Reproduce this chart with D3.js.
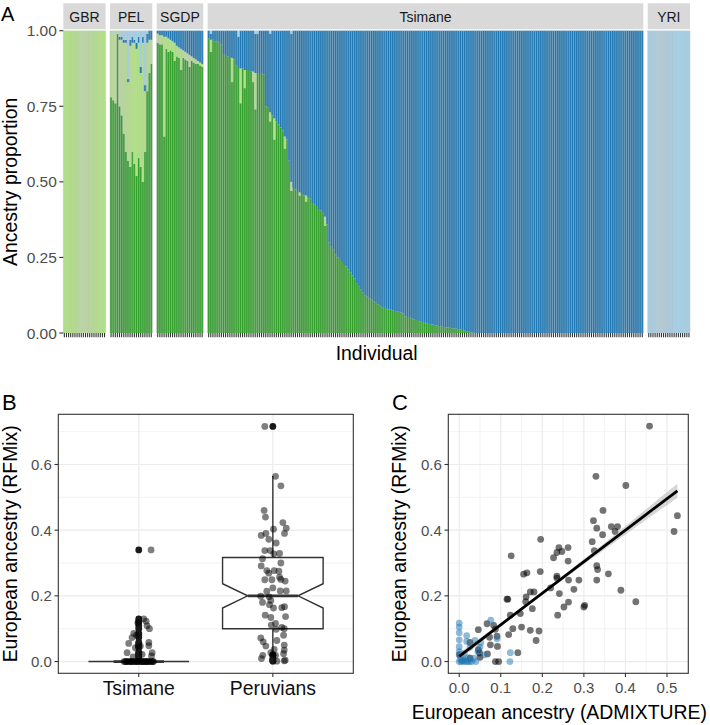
<!DOCTYPE html>
<html><head><meta charset="utf-8">
<script src="https://cdn.jsdelivr.net/npm/d3@7"></script>
<style>
body{margin:0;background:#fff}
svg{display:block}
text{font-family:"Liberation Sans",Arial,Helvetica,sans-serif}
</style>
</head><body>
<svg id="chart" width="710" height="725"></svg>
<script>
// ================= DATA =================
// Panel A: ancestry components (stack order bottom -> top)
const components = ["Native", "European", "Tsimane", "African"];
const componentColors = ["#33A02C", "#B2DF8A", "#1F78B4", "#A6CEE3"];
const populations = ["GBR", "PEL", "SGDP", "Tsimane", "YRI"];

const gbrEuropean = [1,1,1,1,1,1,1,1,1,1,1,1,1,1,1,1,1,1,1,1];
const yriAfrican  = [1,1,1,1,1,1,1,1,1,1,1,1,1,1,1,1,1,1,1,1];

const pelNative   = [0.78,0.77,0.76,0.99,0.75,0.72,0.66,0.60,0.57,0.55,0.60,0.56,0.52,0.58,0.55,0.50,0.60,0.80,0.86,0.89];
const pelEuropean = [0.21,0.22,0.24,0.01,0.22,0.25,0.30,0.36,0.26,0.40,0.36,0.40,0.42,0.38,0.31,0.46,0.20,0.16,0.11,0.08];
const pelTsimane  = [0,0,0,0,0.01,0.01,0.01,0.01,0.01,0.02,0.02,0.01,0.02,0.02,0.02,0.02,0.02,0.03,0.03,0.03];
const pelAfrican  = [0.01,0.01,0,0,0.02,0.02,0.03,0.03,0.16,0.03,0.02,0.03,0.04,0.02,0.12,0.02,0.18,0.01,0,0];

const sgdpNative   = [0.96,0.955,0.955,0.65,0.94,0.93,0.935,0.93,0.90,0.915,0.91,0.87,0.91,0.905,0.90,0.88,0.90,0.895,0.89,0.89,0.885,0.88];
const sgdpEuropean = [0.03,0.03,0.03,0.33,0.04,0.045,0.035,0.035,0.06,0.035,0.035,0.07,0.025,0.025,0.025,0.04,0.015,0.015,0.015,0.01,0.01,0.01];
const sgdpTsimane  = [0.01,0.015,0.015,0.02,0.02,0.025,0.03,0.035,0.04,0.05,0.055,0.06,0.065,0.07,0.075,0.08,0.085,0.09,0.095,0.10,0.105,0.11];

const tsimaneNative = [
 0.975,0.93,0.97,0.965,0.965,0.96,0.955,0.92,0.92,0.915,
 0.91,0.83,0.905,0.885,0.88,0.76,0.875,0.81,0.87,0.87,
 0.865,0.83,0.74,0.86,0.86,0.86,0.855,0.75,0.745,0.70,
 0.72,0.64,0.70,0.69,0.68,0.67,0.61,0.64,0.57,0.47,
 0.48,0.475,0.47,0.455,0.46,0.455,0.435,0.45,0.445,0.43,
 0.425,0.42,0.41,0.405,0.40,0.355,0.36,0.30,0.285,0.275,
 0.26,0.25,0.245,0.235,0.225,0.22,0.21,0.20,0.19,0.18,
 0.165,0.155,0.145,0.135,0.125,0.12,0.115,0.11,0.105,0.10,
 0.095,0.09,0.085,0.083,0.08,0.078,0.077,0.075,0.073,0.072,
 0.07,0.068,0.065,0.055,0.053,0.05,0.048,0.045,0.043,0.04,
 0.038,0.036,0.034,0.032,0.03,0.029,0.028,0.026,0.025,0.023,
 0.022,0.02,0.019,0.018,0.017,0.016,0.015,0.014,0.013,0.012,
 0.01,0.008,0.006,0.004,0.002,0.001,0,0,0,0,
 0,0,0,0,0,0,0,0,0,0,
 0,0,0,0,0,0,0,0,0,0,
 0,0,0,0,0,0,0,0,0,0,
 0,0,0,0,0,0,0,0,0,0,
 0,0,0,0,0,0,0,0,0,0,
 0,0,0,0,0,0,0,0,0,0,
 0,0,0,0,0,0,0,0,0,0,
 0,0,0,0,0,0
];
// [bar index, proportion]
const tsimaneEuropeanBits = [[1,0.04],[11,0.08],[15,0.115],[17,0.06],[21,0.035],[22,0.12],[29,0.03],[31,0.07],[36,0.04],[39,0.03],[43,0.01],[46,0.02],[55,0.03]];
const tsimaneAfricanBits  = [[1,0.01],[14,0.02],[22,0.01],[23,0.01],[29,0.01],[39,0.01]];

const yTicksA = [0, 0.25, 0.5, 0.75, 1];
const yTickLabelsA = ["0.00", "0.25", "0.50", "0.75", "1.00"];

// Panel B: European ancestry (RFMix) by group, with jitter offsets (in category units)
const groupsB = ["Tsimane", "Peruvians"];
const peruRFMix = [0.716,0.564,0.535,0.460,0.440,0.423,0.403,0.406,0.390,0.390,0.384,0.361,0.372,0.338,0.338,0.329,0.328,0.313,0.300,0.291,0.277,0.277,0.275,0.269,0.249,0.249,0.257,0.250,0.245,0.224,0.214,0.215,0.215,0.199,0.197,0.186,0.180,0.173,0.167,0.164,0.163,0.141,0.134,0.137,0.116,0.111,0.104,0.100,0.098,0.080,0.072,0.064,0.060,0.050,0.047,0.037,0.035,0.027,0.024,0.019,0.019,0.009,0.001,0.002,0.004,0.022];
const peruJitter = [-0.06,0.02,0.06,-0.065,-0.055,0.075,0.005,0.10,0.087,-0.052,-0.087,0.025,-0.03,-0.06,-0.02,0.05,0.007,-0.077,0.06,-0.087,-0.045,0.01,0.045,-0.03,-0.06,-0.007,0.05,0.06,0.092,0.0,-0.045,0.055,0.10,-0.09,-0.027,-0.015,-0.077,-0.025,0.087,0.067,0.005,-0.057,-0.015,0.095,0.02,-0.012,0.067,0.085,0.025,0.08,-0.09,0.03,-0.072,0.085,-0.052,0.01,0.085,-0.015,0.08,-0.075,0.02,-0.085,0.03,0.085,0.092,0.0];
const tsimaneRFMix = [0.340,0.130,0.123,0.118,0.109,0.100,0.086,0.080,0.073,0.058,0.055,0.047,0.048,0.042,0.027,0.027,0.017,0.022,0.014,
 0,0,0,0,0,0,0,0,0,0,0,0,0,0,0,0,0,0,0,0,0,0,0,0,0,0,0,0,0,0];
const tsimaneJitter = [0.092,0.037,0.055,-0.007,0.062,0.08,-0.037,-0.017,-0.05,0.075,-0.075,0.012,0.075,-0.025,-0.087,0.1,0.095,0.025,-0.042,
 -0.11,-0.1,-0.09,-0.08,-0.07,-0.06,-0.05,-0.04,-0.03,-0.02,-0.01,0,0.01,0.02,0.03,0.04,0.05,0.06,0.07,0.08,0.09,0.1,0.11,-0.095,-0.055,-0.015,0.025,0.065,0.105,0.045];
// box statistics
const boxGroup   = ["Tsimane", "Peruvians"];
const boxLower   = [0, 0.02];
const boxQ1      = [0, 0.10];
const boxMedian  = [0, 0.20];
const boxQ3      = [0, 0.317];
const boxUpper   = [0, 0.565];
const boxNotchLo = [0, 0.163];
const boxNotchHi = [0, 0.237];
const yTicksBC = [0, 0.2, 0.4, 0.6];

// Panel C: ADMIXTURE vs RFMix
const peruAdmix = [0.458,0.329,0.401,0.346,0.525,0.323,0.366,0.381,0.331,0.375,0.517,0.345,0.320,0.196,0.325,0.240,0.262,0.227,0.235,0.247,0.262,0.125,0.331,0.333,0.359,0.195,0.155,0.163,0.235,0.235,0.288,0.263,0.331,0.389,0.276,0.220,0.241,0.171,0.180,0.161,0.160,0.425,0.263,0.115,0.117,0.176,0.252,0.300,0.302,0.237,0.123,0.147,0.171,0.192,0.150,0.129,0.119,0.185,0.141,0.046,0.067,0.083,0.087,0.073,0.091,0.075,0.092,0.026,0.046,0.068,0.050,0.049,0.087,0.095,0.026,0.001];
const peruRFMixC = [0.717,0.564,0.536,0.460,0.444,0.429,0.411,0.411,0.406,0.396,0.396,0.386,0.365,0.372,0.338,0.347,0.347,0.316,0.332,0.335,0.306,0.322,0.292,0.280,0.267,0.274,0.266,0.270,0.260,0.254,0.248,0.248,0.248,0.217,0.220,0.224,0.207,0.212,0.212,0.197,0.182,0.182,0.181,0.190,0.190,0.161,0.166,0.166,0.171,0.141,0.141,0.146,0.095,0.093,0.105,0.100,0.082,0.064,0.027,0.097,0.115,0.110,0.098,0.074,0.077,0.051,0.046,0.058,0.036,0.023,0.013,0.026,0.000,0.000,0.010,0.021];
const tsimaneAdmix = [0.0,0.0,0.0,0.0,0.018,0.018,0.038,0.076,0.091,0.123,0.122,0.050,0.026,0.052,0.0,0.005,0.01,0.015,0.02,0.025,0.03,0.008,0.0,0.0,0.012,0.04,0.035,0.0,0.06,0.045,0.003,0.007,0.016,0.022];
const tsimaneRFMixC = [0.117,0.105,0.088,0.066,0.079,0.061,0.064,0.126,0.069,0.027,0.0,0.044,0.044,0.057,0.0,0.0,0.0,0.005,0.0,0.0,0.0,0.01,0.02,0.03,0.025,0.0,0.01,0.045,0.02,0.03,0.008,0.003,0.0,0.012];
const fitIntercept = 0.016, fitSlope = 0.96;
const ciX    = [0, 0.1, 0.2, 0.3, 0.4, 0.525];
const ciHalf = [0.010, 0.006, 0.005, 0.008, 0.013, 0.021];
const xTicksC = [0, 0.1, 0.2, 0.3, 0.4, 0.5];

// ================= DRAW =================
const svg = d3.select("#chart");
const tickCol = "#4D4D4D", axCol = "#333333", gridCol = "#EBEBEB";

// ---------- Panel A ----------
function bitsToMap(bits){ const m = new Map(bits); return i => m.get(i) || 0; }
const tsEu = bitsToMap(tsimaneEuropeanBits), tsAf = bitsToMap(tsimaneAfricanBits);

const popRows = {
  GBR: gbrEuropean.map((e,i)=>({Native:0, European:e, Tsimane:0, African:0})),
  PEL: pelNative.map((g,i)=>({Native:g, European:pelEuropean[i], Tsimane:pelTsimane[i], African:pelAfrican[i]})),
  SGDP: sgdpNative.map((g,i)=>({Native:g, European:sgdpEuropean[i], Tsimane:sgdpTsimane[i], African:0})),
  Tsimane: tsimaneNative.map((g,i)=>{ const e=tsEu(i), a=tsAf(i); return {Native:g, European:e, African:a, Tsimane:Math.max(0,1-g-e-a)}; }),
  YRI: yriAfrican.map((a,i)=>({Native:0, European:0, Tsimane:0, African:a}))
};

const aLeft = 63.3, aRight = 690, gap = 4.4, aTop = 30.7, aBottom = 333;
const counts = populations.map(p => popRows[p].length);
const totalBars = d3.sum(counts);
const barW = (aRight - aLeft - gap*(populations.length-1)) / totalBars;
const yA = d3.scaleLinear().domain([0,1]).range([aBottom, aTop]);
const stack = d3.stack().keys(components);

let cx = aLeft;
const gA = svg.append("g");
populations.forEach((p, pi) => {
  const rows = popRows[p];
  const x0 = cx, x1 = cx + rows.length*barW;
  cx = x1 + gap;
  const xs = d3.scaleBand().domain(d3.range(rows.length)).range([x0, x1]).padding(0);
  gA.append("rect").attr("x", x0).attr("y", 3.3).attr("width", x1-x0).attr("height", 26).attr("fill", "#D9D9D9");
  gA.append("text").attr("x", (x0+x1)/2).attr("y", 21.5).attr("text-anchor","middle")
    .attr("font-size", 14).attr("fill", "#1A1A1A").text(p);
  const series = stack(rows);
  series.forEach((s, si) => {
    const segs = s.map((d,i)=>({d, i})).filter(e => e.d[1] - e.d[0] > 0);
    gA.append("g").selectAll("rect").data(segs).join("rect")
      .attr("x", e=>xs(e.i)).attr("width", e => e.i === rows.length-1 ? xs.bandwidth() : xs.bandwidth() + 0.3)
      .attr("y", e=>yA(e.d[1])).attr("height", e=>Math.max(0, yA(e.d[0])-yA(e.d[1])))
      .attr("fill", componentColors[si]);
  });
  // bar outlines (thin grey separators between individuals)
  gA.append("g").selectAll("line").data(d3.range(rows.length + 1)).join("line")
    .attr("x1", i=>x0 + i*xs.bandwidth()).attr("x2", i=>x0 + i*xs.bandwidth())
    .attr("y1", aTop).attr("y2", aBottom)
    .attr("stroke", "#BEBEBE").attr("stroke-opacity", 0.8).attr("stroke-width", 0.6);
  // x ticks per individual
  gA.append("g").selectAll("line").data(d3.range(rows.length)).join("line")
    .attr("x1", i=>xs(i)+xs.bandwidth()/2).attr("x2", i=>xs(i)+xs.bandwidth()/2)
    .attr("y1", aBottom).attr("y2", aBottom+4.2).attr("stroke", axCol).attr("stroke-width", 1.1);
});
// y axis A
const yAxA = gA.append("g");
yTicksA.forEach((t,i)=>{
  yAxA.append("line").attr("x1", aLeft-4).attr("x2", aLeft).attr("y1", yA(t)).attr("y2", yA(t)).attr("stroke", axCol).attr("stroke-width",1.1);
  yAxA.append("text").attr("x", aLeft-6.5).attr("y", yA(t)).attr("dy","0.36em").attr("text-anchor","end")
    .attr("font-size", 15.5).attr("fill", tickCol).text(yTickLabelsA[i]);
});
gA.append("text").attr("transform", `translate(17,${(aTop+aBottom)/2}) rotate(-90)`).attr("text-anchor","middle")
  .attr("font-size", 19.4).attr("fill","#000").text("Ancestry proportion");
gA.append("text").attr("x", (aLeft+aRight)/2).attr("y", 360).attr("text-anchor","middle")
  .attr("font-size", 19.4).attr("fill","#000").text("Individual");
svg.append("text").attr("x", 1).attr("y", 21).attr("font-size", 20).text("A");

// ---------- Panel B ----------
const bL = 58.3, bR = 353.3, pT = 414.3, pB = 673.3;
const yMax = d3.max(peruRFMix.concat(tsimaneRFMix, peruRFMixC));
const yBC = d3.scaleLinear().domain([-0.05*yMax, yMax*1.05]).range([pB, pT]);
const xB = d3.scalePoint().domain(groupsB).range([bL, bR]).padding(0.6);
const unitB = (bR - bL) / 2.2;
const gB = svg.append("g");
function grid(g, xl, xr, xMaj, xMin){
  [0.1,0.3,0.5,0.7].forEach(t=>{ if (yBC(t) > pT) g.append("line").attr("x1",xl).attr("x2",xr).attr("y1",yBC(t)).attr("y2",yBC(t)).attr("stroke",gridCol).attr("stroke-width",0.6); });
  (xMin||[]).forEach(x=>g.append("line").attr("x1",x).attr("x2",x).attr("y1",pT).attr("y2",pB).attr("stroke",gridCol).attr("stroke-width",0.6));
  yTicksBC.forEach(t=>g.append("line").attr("x1",xl).attr("x2",xr).attr("y1",yBC(t)).attr("y2",yBC(t)).attr("stroke",gridCol).attr("stroke-width",1.2));
  xMaj.forEach(x=>g.append("line").attr("x1",x).attr("x2",x).attr("y1",pT).attr("y2",pB).attr("stroke",gridCol).attr("stroke-width",1.2));
}
grid(gB, bL, bR, groupsB.map(g=>xB(g)));
const boxW = 0.75*unitB, notchInset = boxW*0.25;
const allB = { Tsimane: tsimaneRFMix, Peruvians: peruRFMix };
boxGroup.forEach((g,i)=>{
  const c = xB(g), x0 = c - boxW/2, x1 = c + boxW/2;
  const y = yBC;
  gB.append("line").attr("x1",c).attr("x2",c).attr("y1",y(boxQ3[i])).attr("y2",y(boxUpper[i])).attr("stroke",axCol).attr("stroke-width",1.4);
  gB.append("line").attr("x1",c).attr("x2",c).attr("y1",y(boxQ1[i])).attr("y2",y(boxLower[i])).attr("stroke",axCol).attr("stroke-width",1.4);
  const path = d3.path();
  path.moveTo(x0, y(boxQ1[i])); path.lineTo(x0, y(boxNotchLo[i])); path.lineTo(x0+notchInset, y(boxMedian[i]));
  path.lineTo(x0, y(boxNotchHi[i])); path.lineTo(x0, y(boxQ3[i])); path.lineTo(x1, y(boxQ3[i]));
  path.lineTo(x1, y(boxNotchHi[i])); path.lineTo(x1-notchInset, y(boxMedian[i])); path.lineTo(x1, y(boxNotchLo[i]));
  path.lineTo(x1, y(boxQ1[i])); path.closePath();
  gB.append("path").attr("d", path.toString()).attr("fill","#fff").attr("stroke",axCol).attr("stroke-width",1.4);
  gB.append("line").attr("x1",x0+notchInset).attr("x2",x1-notchInset).attr("y1",y(boxMedian[i])).attr("y2",y(boxMedian[i]))
    .attr("stroke",axCol).attr("stroke-width",2.8);
  const outs = allB[g].filter(v => v > boxUpper[i] || v < boxLower[i]);
  gB.append("g").selectAll("circle").data(outs).join("circle")
    .attr("cx", c).attr("cy", d=>y(d)).attr("r", 3.4).attr("fill", "#1a1a1a");
});
gB.append("g").selectAll("circle").data(tsimaneRFMix.map((v,i)=>[tsimaneJitter[i],v])).join("circle")
  .attr("cx", d=>xB("Tsimane")+d[0]*unitB).attr("cy", d=>yBC(d[1])).attr("r",3.4).attr("fill","#000").attr("fill-opacity",0.5);
gB.append("g").selectAll("circle").data(peruRFMix.map((v,i)=>[peruJitter[i],v])).join("circle")
  .attr("cx", d=>xB("Peruvians")+d[0]*unitB).attr("cy", d=>yBC(d[1])).attr("r",3.4).attr("fill","#000").attr("fill-opacity",0.5);
gB.append("rect").attr("x",bL).attr("y",pT).attr("width",bR-bL).attr("height",pB-pT).attr("fill","none").attr("stroke",axCol).attr("stroke-width",1.1);
yTicksBC.forEach(t=>{
  gB.append("line").attr("x1",bL-3.8).attr("x2",bL).attr("y1",yBC(t)).attr("y2",yBC(t)).attr("stroke",axCol).attr("stroke-width",1.1);
  gB.append("text").attr("x",bL-6.5).attr("y",yBC(t)).attr("dy","0.36em").attr("text-anchor","end").attr("font-size",15).attr("fill",tickCol).text(d3.format(".1f")(t));
});
groupsB.forEach(g=>{
  gB.append("line").attr("x1",xB(g)).attr("x2",xB(g)).attr("y1",pB).attr("y2",pB+3.8).attr("stroke",axCol).attr("stroke-width",1.1);
  gB.append("text").attr("x",xB(g)).attr("y",695).attr("text-anchor","middle").attr("font-size",19.4).attr("fill","#111").text(g);
});
gB.append("text").attr("transform",`translate(16.5,${(pT+pB)/2}) rotate(-90)`).attr("text-anchor","middle").attr("font-size",19.4).text("European ancestry (RFMix)");
svg.append("text").attr("x", 2).attr("y", 410).attr("font-size", 22).text("B");

// ---------- Panel C ----------
const cL = 448.3, cR = 688.3;
const xMaxC = d3.max(peruAdmix.concat(tsimaneAdmix));
const xC = d3.scaleLinear().domain([-0.05*xMaxC, xMaxC*1.05]).range([cL, cR]);
const gC = svg.append("g");
grid(gC, cL, cR, xTicksC.map(t=>xC(t)), [0.05,0.15,0.25,0.35,0.45].map(t=>xC(t)));
gC.append("g").selectAll("circle").data(peruAdmix.map((x,i)=>[x, peruRFMixC[i]])).join("circle")
  .attr("cx", d=>xC(d[0])).attr("cy", d=>yBC(d[1])).attr("r",3.4).attr("fill","#000").attr("fill-opacity",0.55);
gC.append("g").selectAll("circle").data(tsimaneAdmix.map((x,i)=>[x, tsimaneRFMixC[i]])).join("circle")
  .attr("cx", d=>xC(d[0])).attr("cy", d=>yBC(d[1])).attr("r",3.4).attr("fill","#1F78B4").attr("fill-opacity",0.5);
const ciData = ciX.map((x,i)=>({x, lo: fitIntercept+fitSlope*x-ciHalf[i], hi: fitIntercept+fitSlope*x+ciHalf[i]}));
gC.append("path").datum(ciData).attr("d", d3.area().x(d=>xC(d.x)).y0(d=>yBC(d.lo)).y1(d=>yBC(d.hi)).curve(d3.curveMonotoneX))
  .attr("fill","#999").attr("fill-opacity",0.4);
const fitX = [d3.min(peruAdmix.concat(tsimaneAdmix)), xMaxC];
gC.append("path").datum(fitX).attr("d", d3.line().x(d=>xC(d)).y(d=>yBC(fitIntercept+fitSlope*d)))
  .attr("stroke","#000").attr("stroke-width",2.8).attr("fill","none");
gC.append("rect").attr("x",cL).attr("y",pT).attr("width",cR-cL).attr("height",pB-pT).attr("fill","none").attr("stroke",axCol).attr("stroke-width",1.1);
yTicksBC.forEach(t=>{
  gC.append("line").attr("x1",cL-3.8).attr("x2",cL).attr("y1",yBC(t)).attr("y2",yBC(t)).attr("stroke",axCol).attr("stroke-width",1.1);
  gC.append("text").attr("x",cL-6.5).attr("y",yBC(t)).attr("dy","0.36em").attr("text-anchor","end").attr("font-size",15).attr("fill",tickCol).text(d3.format(".1f")(t));
});
xTicksC.forEach(t=>{
  gC.append("line").attr("x1",xC(t)).attr("x2",xC(t)).attr("y1",pB).attr("y2",pB+3.8).attr("stroke",axCol).attr("stroke-width",1.1);
  gC.append("text").attr("x",xC(t)).attr("y",693).attr("text-anchor","middle").attr("font-size",15).attr("fill",tickCol).text(d3.format(".1f")(t));
});
gC.append("text").attr("transform",`translate(406,${(pT+pB)/2}) rotate(-90)`).attr("text-anchor","middle").attr("font-size",19.4).text("European ancestry (RFMix)");
gC.append("text").attr("x",707).attr("y",719).attr("text-anchor","end").attr("font-size",19.4).text("European ancestry (ADMIXTURE)");
svg.append("text").attr("x", 392).attr("y", 410).attr("font-size", 22).text("C");
</script>
</body></html>
